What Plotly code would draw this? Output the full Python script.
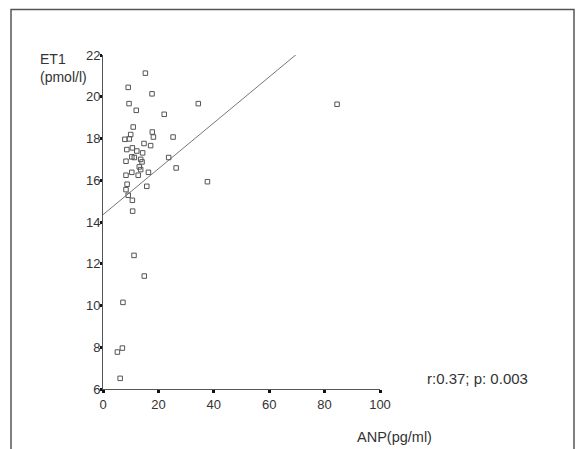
import plotly.graph_objects as go

# Data
anp = [15.3, 9.1, 17.7, 9.4, 12.0, 34.4, 22.1, 10.9, 17.8, 10.0, 18.2, 7.9, 9.5, 25.3,
       14.8, 17.2, 8.6, 10.6, 12.2, 14.3, 10.4, 11.3, 13.6, 8.3, 14.1, 23.7, 13.1, 13.6,
       26.4, 10.4, 12.7, 8.3, 16.4, 37.7, 8.7, 15.8, 8.3, 9.1, 10.6, 10.7, 11.2, 14.9,
       7.2, 5.2, 7.0, 6.2, 84.5]
et1 = [21.13, 20.45, 20.14, 19.67, 19.35, 19.67, 19.16, 18.55, 18.31, 18.19, 18.07, 17.96,
       17.98, 18.07, 17.76, 17.66, 17.47, 17.55, 17.40, 17.31, 17.12, 17.09, 17.00, 16.91,
       16.88, 17.09, 16.64, 16.51, 16.59, 16.38, 16.24, 16.24, 16.38, 15.93, 15.81, 15.71,
       15.55, 15.28, 15.04, 14.52, 12.40, 11.41, 10.15, 7.77, 7.96, 6.51, 19.64]

fit_intercept = 14.35
fit_slope = 0.11
fit_x = [0, 69.7]
fit_y = [fit_intercept + fit_slope * v for v in fit_x]

x_ticks = [0, 20, 40, 60, 80, 100]
y_ticks = [6, 8, 10, 12, 14, 16, 18, 20, 22]

font = "Liberation Sans, Arial, sans-serif"
txt = "#333333"

fig = go.Figure()
fig.add_trace(go.Scatter(x=fit_x, y=fit_y, mode="lines",
                         line=dict(color="#777777", width=1), hoverinfo="skip"))
fig.add_trace(go.Scatter(x=anp, y=et1, mode="markers",
                         marker=dict(symbol="square-open", size=4.5,
                                     color="#555555", line=dict(width=1)),
                         cliponaxis=False))

fig.update_layout(
    width=579, height=449,
    margin=dict(l=103, r=199, t=55, b=60),
    paper_bgcolor="white", plot_bgcolor="white",
    showlegend=False,
    font=dict(family=font, color=txt),
    xaxis=dict(range=[0, 100], tickvals=x_ticks, showgrid=False, zeroline=False,
               showline=True, linecolor="#555555", linewidth=1,
               ticks="outside", ticklen=3, tickwidth=3, tickcolor="#111111",
               tickfont=dict(size=13, color=txt, family=font)),
    yaxis=dict(range=[6, 22], tickvals=y_ticks, showgrid=False, zeroline=False,
               showline=True, linecolor="#555555", linewidth=1,
               ticks="outside", ticklen=2, tickwidth=3, tickcolor="#111111",
               ticklabelstandoff=-3,
               tickfont=dict(size=13, color=txt, family=font)),
    shapes=[dict(type="rect", xref="paper", yref="paper",
                 x0=-92/277, x1=(574-103)/277, y0=-0.3, y1=(389-9.5)/334,
                 line=dict(color="#555555", width=1.5))],
    annotations=[
        dict(text="ET1<br>(pmol/l)", xref="paper", yref="paper",
             x=(38-103)/277, y=(389-49)/334, xanchor="left", yanchor="top",
             align="left", showarrow=False, font=dict(size=14, color=txt, family=font)),
        dict(text="ANP(pg/ml)", xref="paper", yref="paper",
             x=(355-103)/277, y=(389-437)/334, xanchor="left", yanchor="middle",
             showarrow=False, font=dict(size=14.5, color=txt, family=font)),
        dict(text="r:0.37; p: 0.003", xref="paper", yref="paper",
             x=(425-103)/277, y=(389-378)/334, xanchor="left", yanchor="middle",
             showarrow=False, font=dict(size=15, color=txt, family=font)),
    ],
)

fig.write_html("out.html", config={"displayModeBar": False},
               post_script="document.body.style.margin='0';")
